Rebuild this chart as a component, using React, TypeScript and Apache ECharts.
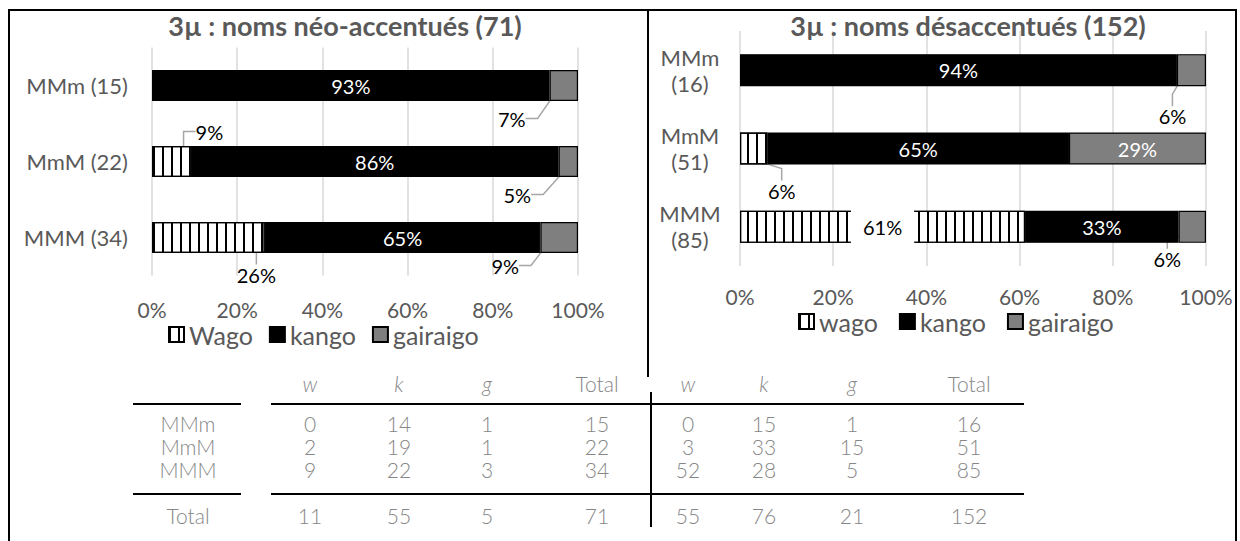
import React, { useEffect, useRef } from 'react';
import * as echarts from 'echarts';

// ---------- DATA ----------
const patterns = ['MMm', 'MmM', 'MMM'];
// néo-accentués counts
const wagoNeo = [0, 2, 9];
const kangoNeo = [14, 19, 22];
const gairaigoNeo = [1, 1, 3];
// désaccentués counts
const wagoDes = [0, 3, 52];
const kangoDes = [15, 33, 28];
const gairaigoDes = [1, 15, 5];

const titleNeo = '3µ : noms néo-accentués';
const titleDes = '3µ : noms désaccentués';
const legendNeo = ['Wago', 'kango', 'gairaigo'];
const legendDes = ['wago', 'kango', 'gairaigo'];
const tableHeader = ['w', 'k', 'g', 'Total'];
const totalLabel = 'Total';

// ---------- STYLE / LAYOUT ----------
const FONT = 'Lato, "Noto Sans", sans-serif';
const TXT = '#595959';
const TBL_TXT = '#868686';

// label offsets for small segments (seriesIndex-dataIndex): [dx, dy]
const LABEL_OFFSETS: Record<string, [number, number]> = {
  '0-1': [38, -30],
  '0-2': [48, 37],
  '2-0': [-52, 33],
  '2-1': [-51, 33],
  '2-2': [-54, 28],
  '3-1': [28, 42],
  '5-0': [-19, 46],
  '5-2': [-25, 32],
};
const WHITE_BG_LABEL = '3-2';

const sum = (a: number[]) => a.reduce((s, v) => s + v, 0);
const rowTotals = (w: number[], k: number[], g: number[]) => w.map((_, i) => w[i] + k[i] + g[i]);

const hatchStyle = {
  color: '#ffffff',
  borderColor: '#000',
  borderWidth: 1.2,
  decal: {
    symbol: 'rect',
    symbolSize: 1,
    dashArrayX: [2, 7],
    dashArrayY: [10, 0],
    rotation: 0,
    color: '#000',
  },
};
const kangoStyle = { color: '#000000', borderColor: '#000', borderWidth: 1.2 };
const gairaigoStyle = { color: '#7f7f7f', borderColor: '#000', borderWidth: 1.2 };

function buildSeries(
  names: string[],
  cols: number[][],
  totals: number[],
  stack: string,
  axisIdx: number,
  baseIndex: number,
  barWidth: number
) {
  const styles = [hatchStyle, kangoStyle, gairaigoStyle];
  return names.map((name, si) => {
    const sIdx = baseIndex + si;
    return {
      type: 'bar',
      name,
      stack,
      xAxisIndex: axisIdx,
      yAxisIndex: axisIdx,
      barWidth,
      itemStyle: styles[si],
      label: {
        show: true,
        position: 'inside',
        color: si === 0 ? '#000' : '#fff',
        fontSize: 20,
        fontFamily: FONT,
        formatter: (p: any) => Math.round(p.value) + '%',
      },
      labelLine: {
        show: false,
        length2: 12,
        lineStyle: { color: '#a6a6a6', width: 1.5 },
      },
      data: cols[si].map((v, di) => {
        const key = `${sIdx}-${di}`;
        const item: any = { value: (v / totals[di]) * 100 };
        if (v === 0) {
          item.label = { show: false };
          item.itemStyle = { borderWidth: 0 };
        } else if (LABEL_OFFSETS[key]) {
          item.label = { color: '#000' };
          item.labelLine = { show: true };
        } else if (key === WHITE_BG_LABEL) {
          item.label = { color: '#000', backgroundColor: '#fff', padding: [9, 12] };
        }
        return item;
      }),
    };
  });
}

export default function App() {
  const ref = useRef<HTMLDivElement>(null);

  useEffect(() => {
    if (!ref.current) return;
    const chart = echarts.init(ref.current, undefined, { renderer: 'svg' });

    const totNeo = rowTotals(wagoNeo, kangoNeo, gairaigoNeo);
    const totDes = rowTotals(wagoDes, kangoDes, gairaigoDes);

    const xAxisBase = (gridIndex: number, margin: number) => ({
      gridIndex,
      type: 'value',
      min: 0,
      max: 100,
      interval: 20,
      axisLabel: { formatter: '{value}%', color: TXT, fontSize: 21, fontFamily: FONT, margin },
      splitLine: { show: true, lineStyle: { color: '#d9d9d9', width: 1.5 } },
      axisLine: { show: false },
      axisTick: { show: false },
    });

    // ----- table graphics -----
    const graphics: any[] = [];
    const txt = (text: string, x: number, y: number, italic = false) => ({
      type: 'text',
      x,
      y,
      silent: true,
      style: {
        text,
        fill: TBL_TXT,
        font: `${italic ? 'italic ' : ''}300 21px ${FONT}`,
        align: 'center',
        verticalAlign: 'middle',
        textAlign: 'center',
        textVerticalAlign: 'middle',
      },
    });
    const line = (x1: number, y1: number, x2: number, y2: number) => ({
      type: 'line',
      silent: true,
      shape: { x1, y1, x2, y2 },
      style: { stroke: '#000', lineWidth: 2 },
    });

    const rowLabelX = 188;
    const leftCols = [310, 399, 487, 597];
    const rightCols = [688, 764, 852, 969];
    const headerY = 383;
    const rowYs = [423, 446, 469];
    const totalY = 515;

    tableHeader.forEach((h, i) => {
      graphics.push(txt(h, leftCols[i], headerY, i < 3));
      graphics.push(txt(h, rightCols[i], headerY, i < 3));
    });
    const leftColsData = [wagoNeo, kangoNeo, gairaigoNeo, totNeo];
    const rightColsData = [wagoDes, kangoDes, gairaigoDes, totDes];
    patterns.forEach((p, r) => {
      graphics.push(txt(p, rowLabelX, rowYs[r]));
      leftColsData.forEach((col, c) => graphics.push(txt(String(col[r]), leftCols[c], rowYs[r])));
      rightColsData.forEach((col, c) => graphics.push(txt(String(col[r]), rightCols[c], rowYs[r])));
    });
    graphics.push(txt(totalLabel, rowLabelX, totalY));
    leftColsData.forEach((col, c) => graphics.push(txt(String(sum(col)), leftCols[c], totalY)));
    rightColsData.forEach((col, c) => graphics.push(txt(String(sum(col)), rightCols[c], totalY)));

    [404, 494].forEach((y) => {
      graphics.push(line(133, y, 241, y));
      graphics.push(line(271, y, 1024, y));
    });
    graphics.push(line(651, 392, 651, 527));

    // frame & divider
    graphics.push({
      type: 'rect',
      silent: true,
      shape: { x: 9, y: 10, width: 1227, height: 545 },
      style: { fill: 'none', stroke: '#000', lineWidth: 2 },
    });
    graphics.push(line(648, 10, 648, 377));

    const titleStyle = { fontFamily: FONT, fontSize: 27, fontWeight: 'bold', color: TXT };
    const legendText = { fontFamily: FONT, fontSize: 25, color: TXT };

    const option: any = {
      animation: false,
      title: [
        { text: `${titleNeo} (${sum(totNeo)})`, left: 345, top: 12, textAlign: 'center', padding: 0, textStyle: titleStyle },
        { text: `${titleDes} (${sum(totDes)})`, left: 968, top: 12, textAlign: 'center', padding: 0, textStyle: titleStyle },
      ],
      legend: [
        {
          data: legendNeo,
          left: 168,
          top: 322,
          padding: 0,
          itemWidth: 15,
          itemHeight: 15,
          itemGap: 16,
          icon: 'rect',
          selectedMode: false,
          textStyle: legendText,
        },
        {
          data: legendDes,
          left: 798,
          top: 309,
          padding: 0,
          itemWidth: 15,
          itemHeight: 15,
          itemGap: 21,
          icon: 'rect',
          selectedMode: false,
          textStyle: legendText,
        },
      ],
      grid: [
        { left: 152, width: 426, top: 47.5, height: 228, outerBoundsMode: 'none' },
        { left: 740, width: 466, top: 31, height: 235, outerBoundsMode: 'none' },
      ],
      xAxis: [xAxisBase(0, 23), xAxisBase(1, 20)],
      yAxis: [
        {
          gridIndex: 0,
          type: 'category',
          inverse: true,
          data: patterns.map((p, i) => `${p} (${totNeo[i]})`),
          axisLabel: { color: TXT, fontSize: 22, fontFamily: FONT, margin: 24 },
          axisLine: { show: false },
          axisTick: { show: false },
        },
        {
          gridIndex: 1,
          type: 'category',
          inverse: true,
          data: patterns.map((p, i) => `${p}\n(${totDes[i]})`),
          axisLabel: {
            color: TXT,
            fontSize: 22,
            fontFamily: FONT,
            margin: 50,
            align: 'center',
            lineHeight: 26,
          },
          axisLine: { show: false },
          axisTick: { show: false },
        },
      ],
      series: [
        ...buildSeries(legendNeo, [wagoNeo, kangoNeo, gairaigoNeo], totNeo, 'neo', 0, 0, 31),
        ...buildSeries(legendDes, [wagoDes, kangoDes, gairaigoDes], totDes, 'des', 1, 3, 32),
      ].map((s: any) => ({
        ...s,
        labelLayout: (params: any) => {
          const o = LABEL_OFFSETS[`${params.seriesIndex}-${params.dataIndex}`];
          return o ? { dx: o[0], dy: o[1] } : {};
        },
      })),
      graphic: graphics,
    };

    chart.setOption(option);
    return () => chart.dispose();
  }, []);

  return (
    <div
      ref={ref}
      style={{ position: 'absolute', left: 0, top: 0, width: 1240, height: 541, background: '#fff' }}
    />
  );
}
